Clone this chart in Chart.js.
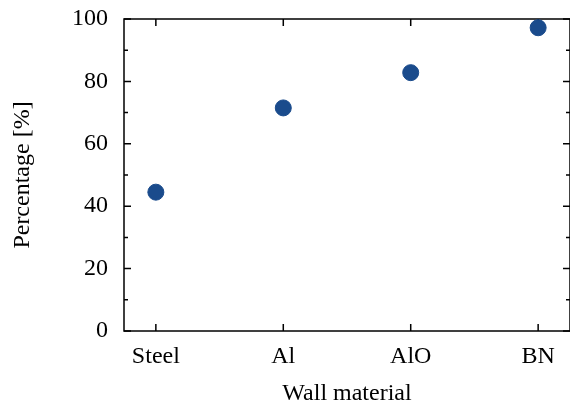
<!DOCTYPE html>
<html lang="en">

<head>
  <meta charset="UTF-8">
  <title>Wall material</title>
  <script src="https://cdn.jsdelivr.net/npm/chart.js@4.4.0/dist/chart.umd.min.js"></script>
  <style>
    html, body { margin: 0; padding: 0; background: #fff; }
    #wrap { width: 570px; height: 406px; position: relative; }
  </style>
</head>

<body>
  <div id="wrap"><canvas id="chart"></canvas></div>
</body>

<script>
  // data
  const materials = ['Steel', 'Al', 'AlO', 'BN'];
  const percentage = [44.5, 71.5, 82.8, 97.2];
  const yTicks = [0, 20, 40, 60, 80, 100];
  const yMinorTicks = [10, 30, 50, 70, 90];

  const font = { family: '"Liberation Serif", "Times New Roman", serif', size: 24 };

  // box around the plot and inward ticks on all four sides (under the points)
  const frame = {
    id: 'frame',
    beforeDatasetsDraw(chart) {
      const { ctx, chartArea: a, scales: { x, y } } = chart;
      ctx.save();
      ctx.strokeStyle = '#000';
      ctx.lineWidth = 1.5;
      ctx.beginPath();
      for (let i = 0; i < materials.length; i++) {
        const px = x.getPixelForValue(i);
        ctx.moveTo(px, a.bottom); ctx.lineTo(px, a.bottom - 7);
        ctx.moveTo(px, a.top); ctx.lineTo(px, a.top + 7);
      }
      for (const v of yTicks) {
        const py = y.getPixelForValue(v);
        ctx.moveTo(a.left, py); ctx.lineTo(a.left + 7, py);
        ctx.moveTo(a.right, py); ctx.lineTo(a.right - 7, py);
      }
      for (const v of yMinorTicks) {
        const py = y.getPixelForValue(v);
        ctx.moveTo(a.left, py); ctx.lineTo(a.left + 4, py);
        ctx.moveTo(a.right, py); ctx.lineTo(a.right - 4, py);
      }
      ctx.stroke();
      ctx.strokeRect(a.left, a.top, a.right - a.left, a.bottom - a.top);
      ctx.restore();
    }
  };

  new Chart(document.getElementById('chart'), {
    type: 'scatter',
    data: {
      datasets: [{
        data: materials.map((m, i) => ({ x: i, y: percentage[i] })),
        backgroundColor: '#1a4b8c',
        borderColor: '#1a4b8c',
        pointRadius: 8,
        pointHoverRadius: 8
      }]
    },
    options: {
      responsive: true,
      maintainAspectRatio: false,
      animation: false,
      layout: { autoPadding: false, padding: { top: 19, right: 0, left: 0, bottom: 0 } },
      plugins: { legend: { display: false }, tooltip: { enabled: false } },
      scales: {
        x: {
          type: 'linear',
          min: -0.25,
          max: 3.25,
          afterFit(s) {
            s.height = 75;
            s.paddingLeft = 0;
            s.paddingRight = 0;
          },
          afterBuildTicks(s) { s.ticks = materials.map((m, i) => ({ value: i })); },
          grid: { display: false, drawTicks: false },
          border: { display: false },
          ticks: {
            color: '#000',
            font: font,
            padding: 11,
            maxRotation: 0,
            callback: (v) => materials[v]
          },
          title: {
            display: true,
            text: 'Wall material',
            color: '#000',
            font: { ...font, lineHeight: 1.05 },
            padding: { top: 0, bottom: 0 }
          }
        },
        y: {
          min: 0,
          max: 100,
          afterFit(s) {
            s.width = 124;
            s.paddingTop = 0;
            s.paddingBottom = 0;
          },
          afterBuildTicks(s) { s.ticks = yTicks.map(v => ({ value: v })); },
          grid: { display: false, drawTicks: false },
          border: { display: false },
          ticks: { color: '#000', font: font, padding: 16 },
          title: {
            display: true,
            text: 'Percentage [%]',
            color: '#000',
            font: font,
            padding: { top: 8, bottom: 0 }
          }
        }
      }
    },
    plugins: [frame]
  });
</script>

</html>
